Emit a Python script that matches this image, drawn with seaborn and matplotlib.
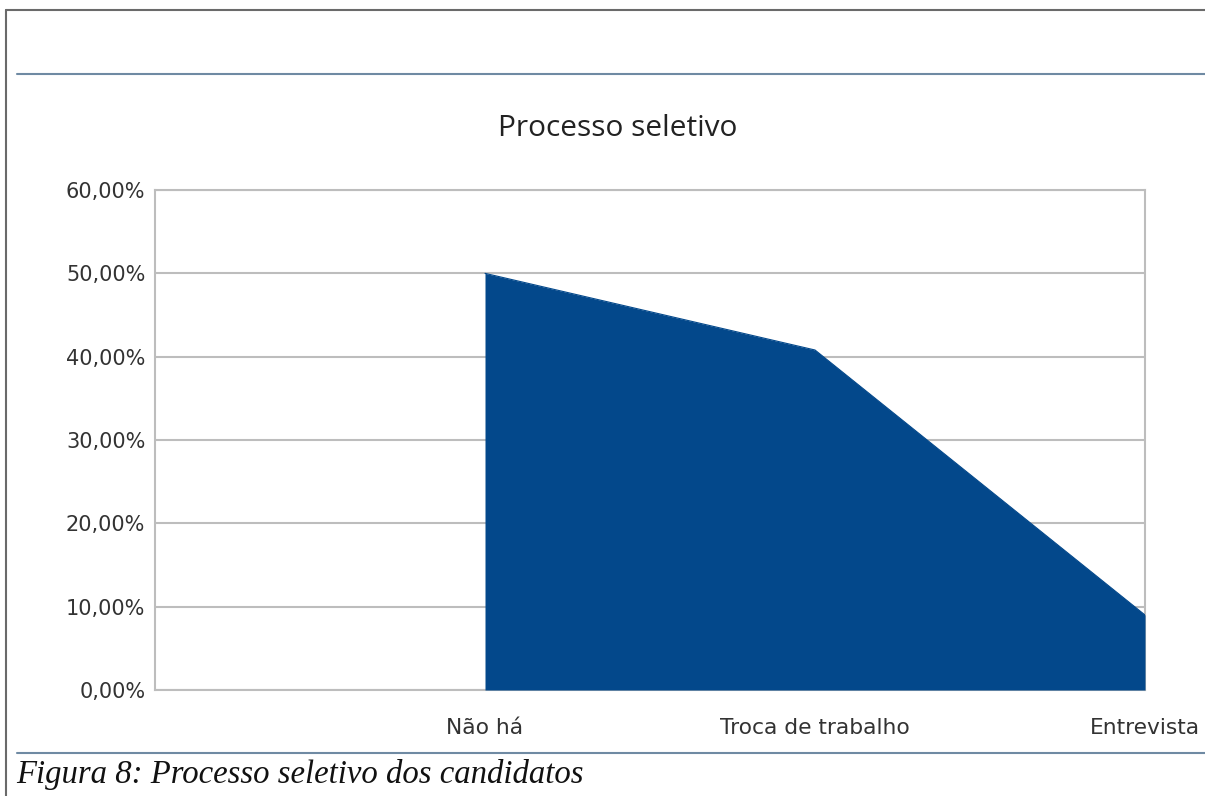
import matplotlib
matplotlib.use("Agg")
import matplotlib.pyplot as plt
from matplotlib.lines import Line2D
from matplotlib.ticker import FuncFormatter, FixedLocator
import numpy as np
import pandas as pd
import seaborn as sns

# ---- data ----
categories = ["", "Não há", "Troca de trabalho", "Entrevista"]
values = [np.nan, 50.0, 40.8, 9.0]          # percent
y_ticks = [0, 10, 20, 30, 40, 50, 60]
title = "Processo seletivo"
caption = "Figura 8: Processo seletivo dos candidatos"

sns.set_theme(style="white")
plt.rcParams['font.family'] = ['DejaVu Sans']

W, H = 1205, 796
fig = plt.figure(figsize=(W / 100, H / 100), dpi=100)
fig.patch.set_facecolor("white")

left, right, bottom, top = 155 / W, 1145 / W, 1 - 690 / H, 1 - 190 / H
ax = fig.add_axes([left, bottom, right - left, top - bottom])

df = pd.DataFrame({"pos": np.arange(len(categories)), "cat": categories, "val": values})
area_color = "#03488b"
sub = df.dropna()
sns.lineplot(data=sub, x="pos", y="val", ax=ax, color=area_color, linewidth=0.8, zorder=3)
ax.fill_between(sub["pos"], 0, sub["val"], color=area_color, linewidth=0, zorder=3)

ax.set_xlim(0, len(categories) - 1)
ax.set_ylim(0, 60)
ax.yaxis.set_major_locator(FixedLocator(y_ticks))
ax.yaxis.set_major_formatter(FuncFormatter(lambda v, p: f"{v:.2f}".replace(".", ",") + "%"))
ax.set_xticks(df["pos"])
ax.set_xticklabels(categories)
ax.set_xlabel("")
ax.set_ylabel("")

grid_c = "#bdbdbd"
ax.grid(axis="y", color=grid_c, linewidth=1.5, zorder=0)
ax.grid(axis="x", visible=False)
for side in ["left", "right", "bottom", "top"]:
    ax.spines[side].set_visible(True)
    ax.spines[side].set_color(grid_c)
    ax.spines[side].set_linewidth(1.5)
ax.tick_params(axis="both", length=0, labelcolor="#333333")
ax.tick_params(axis="y", pad=7, labelsize=15)
ax.tick_params(axis="x", pad=20, labelsize=15.7)

fig.text(618 / W, 1 - 128 / H, title, ha="center", va="center", fontsize=21.5,
         color="#222222", family=["Open Sans", "DejaVu Sans"])

# frame lines of the document
fig.add_artist(Line2D([6 / W, 1], [1 - 10 / H, 1 - 10 / H], color="#6a6a6a", lw=1.5))
fig.add_artist(Line2D([6 / W, 6 / W], [0, 1 - 10 / H], color="#6a6a6a", lw=1.5))
fig.add_artist(Line2D([17 / W, 1], [1 - 74 / H, 1 - 74 / H], color="#6f8aa3", lw=1.5))
fig.add_artist(Line2D([17 / W, 1], [1 - 753 / H, 1 - 753 / H], color="#6f8aa3", lw=1.5))

fig.text(16 / W, 1 - 774 / H, caption, ha="left", va="center", fontsize=23.6,
         style="italic", color="#111111", family=["Liberation Serif", "DejaVu Serif"])

fig.savefig("out.png", dpi=100, facecolor="white")
